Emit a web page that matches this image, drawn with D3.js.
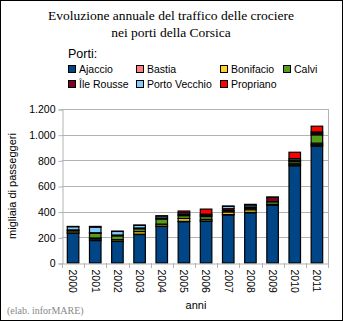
<!DOCTYPE html>
<html lang="it">
<head>
<meta charset="UTF-8">
<title>Traffico crociere Corsica</title>
<script src="https://d3js.org/d3.v7.min.js"></script>
<style>
  body { margin: 0; background: #fff; }
  svg { display: block; }
</style>
</head>
<body>
<svg width="343" height="321"></svg>
<script>
// dati (migliaia di passeggeri)
const years = ["2000","2001","2002","2003","2004","2005","2006","2007","2008","2009","2010","2011"];
const ports = ["Ajaccio","Bastia","Bonifacio","Calvi","Île Rousse","Porto Vecchio","Propriano"];
const ajaccio      = [232, 175, 168, 222, 285, 322, 325, 375, 392, 452, 758, 912];
const bastia       = [  3,  12,   2,   3,   3,   3,   3,   3,   3,   2,   8,  10];
const bonifacio    = [ 15,   8,  12,  20,  15,  22,  12,  20,  20,   3,  12,  12];
const calvi        = [  3,  36,  30,  22,  40,  22,  22,  10,  12,  20,  15,  65];
const ileRousse    = [  5,   5,   6,   6,   8,  10,  10,  15,  10,  35,   8,  12];
const portoVecchio = [ 25,  44,  28,  20,  15,  12,   8,  18,  15,   2,  12,  10];
const propriano    = [  2,   5,   2,   3,   2,  14,  40,   3,   5,   0,  50,  45];
const yTicks = [0, 200, 400, 600, 800, 1000, 1200];
const colors = ["#004586","#ff8080","#ffd320","#579d1c","#7e0021","#83caff","#ff0000"];

const series = [ajaccio, bastia, bonifacio, calvi, ileRousse, portoVecchio, propriano];
const rows = years.map((y, i) => {
  const r = { year: y };
  ports.forEach((p, j) => r[p] = series[j][i]);
  return r;
});

const svg = d3.select("svg");
const plot = { left: 62, right: 328, top: 109, bottom: 263 };

// cornice
svg.append("rect")
  .attr("x", 0.5).attr("y", 0.5).attr("width", 342).attr("height", 320)
  .attr("fill", "#fff").attr("stroke", "#000").attr("stroke-width", 1);

// titolo
const title = svg.append("text")
  .attr("text-anchor", "middle")
  .attr("font-family", "Liberation Serif, serif")
  .attr("font-size", 13.5)
  .attr("fill", "#000");
title.append("tspan").attr("x", 171).attr("y", 20).text("Evoluzione annuale del traffico delle crociere");
title.append("tspan").attr("x", 171).attr("y", 37).text("nei porti della Corsica");

// legenda
const legend = svg.append("g").attr("font-family", "Liberation Sans, Arial, sans-serif");
legend.append("text").attr("x", 68).attr("y", 58).attr("font-size", 12.5).text("Porti:");
const legX = [68, 136, 220, 283];
ports.forEach((p, i) => {
  const row = i < 4 ? 0 : 1;
  const col = i < 4 ? i : i - 4;
  const g = legend.append("g").attr("transform", `translate(${legX[col]},${65 + row * 15})`);
  g.append("rect").attr("x", 0.5).attr("y", 0.5).attr("width", 7).attr("height", 7)
    .attr("fill", colors[i]).attr("stroke", "#000").attr("stroke-width", 1);
  g.append("text").attr("x", 11).attr("y", 8).attr("font-size", 10.5).text(p);
});

// scale
const x = d3.scaleBand().domain(years).range([plot.left, plot.right]).padding(0);
const y = d3.scaleLinear().domain([0, 1200]).range([plot.bottom, plot.top]);
const it = d3.formatLocale({ decimal: ",", thousands: ".", grouping: [3], currency: ["", ""] });
const fmt = it.format(",");

// griglia
svg.append("g").selectAll("line").data(yTicks.slice(1)).join("line")
  .attr("x1", plot.left).attr("x2", plot.right)
  .attr("y1", d => Math.round(y(d)) + 0.5).attr("y2", d => Math.round(y(d)) + 0.5)
  .attr("stroke", "#b3b3b3");
svg.append("line")
  .attr("x1", plot.right + 0.5).attr("x2", plot.right + 0.5)
  .attr("y1", Math.round(y(1200))).attr("y2", plot.bottom)
  .attr("stroke", "#b3b3b3");

// asse y
const yAxis = svg.append("g")
  .attr("transform", `translate(${plot.left + 0.5},0.5)`)
  .call(d3.axisLeft(y).tickValues(yTicks).tickFormat(fmt).tickSize(4).tickPadding(3))
  .attr("font-family", "Liberation Sans, Arial, sans-serif")
  .attr("font-size", 10.5);
yAxis.selectAll("line").attr("stroke", "#b3b3b3");
yAxis.select(".domain").attr("stroke", "#b3b3b3");
yAxis.selectAll("text").attr("fill", "#000");

// barre impilate
const stack = d3.stack().keys(ports)(rows);
const barW = x.bandwidth() * 0.52;
svg.append("g").selectAll("g").data(stack).join("g")
  .attr("fill", (d, i) => colors[i])
  .selectAll("rect").data(d => d.filter(s => s[1] - s[0] > 0)).join("rect")
  .attr("x", d => x(d.data.year) + (x.bandwidth() - barW) / 2)
  .attr("y", d => y(d[1]))
  .attr("width", barW)
  .attr("height", d => y(d[0]) - y(d[1]))
  .attr("stroke", "#000")
  .attr("stroke-width", 1.2);

// asse x
const xAxis = svg.append("g")
  .attr("transform", `translate(0,${plot.bottom + 0.5})`)
  .call(d3.axisBottom(x).tickSize(0).tickPadding(0))
  .attr("font-family", "Liberation Sans, Arial, sans-serif")
  .attr("font-size", 10.5);
xAxis.select(".domain").attr("stroke", "#b3b3b3");
xAxis.selectAll("text")
  .attr("fill", "#000")
  .attr("text-anchor", "start")
  .attr("dy", "0.35em")
  .attr("transform", "translate(0,6) rotate(90)");
// tacche fra le categorie
svg.append("g").selectAll("line").data(years.concat(["end"])).join("line")
  .attr("x1", (d, i) => Math.round(plot.left + i * x.step()) + 0.5)
  .attr("x2", (d, i) => Math.round(plot.left + i * x.step()) + 0.5)
  .attr("y1", plot.bottom).attr("y2", plot.bottom + 5)
  .attr("stroke", "#b3b3b3");

// titoli assi
svg.append("text")
  .attr("transform", `translate(16,${(plot.top + plot.bottom) / 2}) rotate(-90)`)
  .attr("text-anchor", "middle")
  .attr("font-family", "Liberation Sans, Arial, sans-serif")
  .attr("font-size", 11)
  .text("migliaia di passeggeri");
svg.append("text")
  .attr("x", 196).attr("y", 309)
  .attr("text-anchor", "middle")
  .attr("font-family", "Liberation Sans, Arial, sans-serif")
  .attr("font-size", 11)
  .text("anni");

// fonte
svg.append("text")
  .attr("x", 7).attr("y", 314)
  .attr("font-family", "Liberation Serif, serif")
  .attr("font-size", 10)
  .attr("fill", "#888")
  .text("(elab. inforMARE)");
</script>
</body>
</html>
